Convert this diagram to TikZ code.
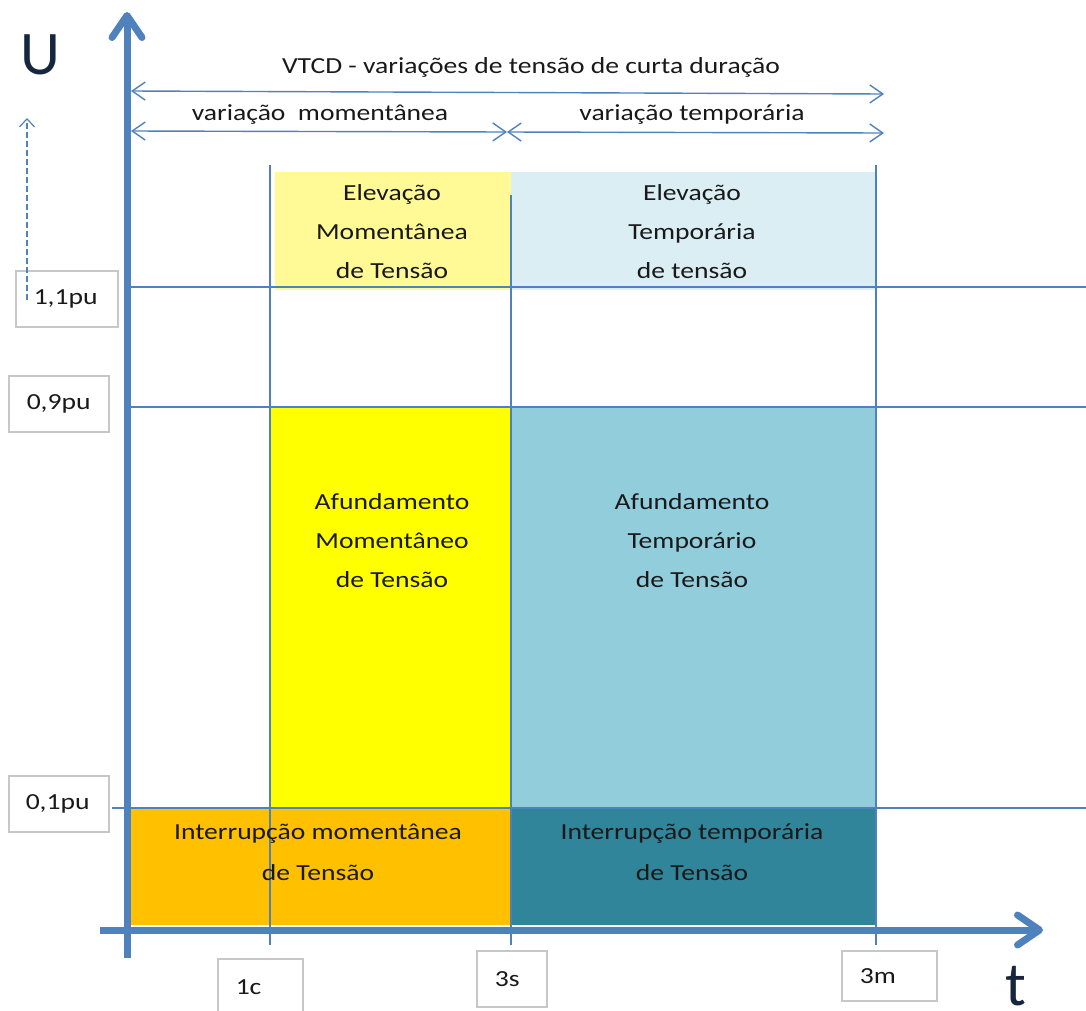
\documentclass[tikz,border=0pt]{standalone}
\usepackage{fontspec}
\setmainfont{Carlito}[FakeStretch=1.2]
\newfontfamily\axisfont{Carlito}
\usetikzlibrary{arrows.meta}
\definecolor{axblue}{RGB}{79,129,189}
\definecolor{elevmom}{RGB}{255,250,150}
\definecolor{elevtemp}{RGB}{218,238,243}
\definecolor{afumom}{RGB}{255,255,0}
\definecolor{afutemp}{RGB}{146,205,220}
\definecolor{intmom}{RGB}{255,192,0}
\definecolor{inttemp}{RGB}{49,133,155}
\definecolor{txtdark}{RGB}{25,25,25}
\definecolor{axtext}{RGB}{22,38,62}

\begin{document}
\begin{tikzpicture}[x=1pt,y=-1pt,
  axis/.style={axblue,line width=7pt,-{Straight Barb[length=22pt,width=30pt,round]}},
  guide/.style={axblue,line width=1.3pt},
  span/.style={axblue,line width=1.4pt,{Straight Barb[length=13pt,width=18pt]}-{Straight Barb[length=13pt,width=18pt]}},
  zone/.style={align=center,font=\fontsize{23}{39}\selectfont,text=txtdark,inner sep=0pt},
  axname/.style={font=\axisfont\fontsize{62}{62}\selectfont,text=axtext,inner sep=0pt},
  level/.style={draw=black!22,line width=1.5pt,fill=white,font=\fontsize{23}{25}\selectfont,
    text=txtdark,align=left,inner xsep=18pt,inner ysep=0pt,anchor=north west}]
\useasboundingbox (0,0) rectangle (1086,1010);

% Zone fills
\fill[elevmom] (275,172) rectangle (511,290);
\fill[elevtemp] (511,172) rectangle (876,290);
\fill[afumom] (270,407) rectangle (511,808);
\fill[afutemp] (511,407) rectangle (876,808);
\fill[intmom] (130,808) rectangle (511,925);
\fill[inttemp] (511,808) rectangle (876,925);

% Guide lines
\foreach \gx/\gtop in {270/165, 511/195, 876/165}
  \draw[guide] (\gx,\gtop) -- (\gx,945);
\foreach \gy/\gleft in {287/130, 407/130, 808/112}
  \draw[guide] (\gleft,\gy) -- (1086,\gy);

% Axes
\coordinate (vbase) at (127,958);
\coordinate (vtip) at (127,12);
\coordinate (hbase) at (100,930);
\coordinate (htip) at (1043,930);
\draw[axis] (vbase) -- (vtip);
\draw[axis] (hbase) -- (htip);
\node[axname] (ulabel) at (40,55) {U};
\node[axname] (tlabel) at (1016,986) {t};

% Duration spans
\coordinate (vtcdL) at (131,91);
\coordinate (vtcdR) at (884,94);
\coordinate (momL) at (131,131);
\coordinate (mid) at (507,132);
\coordinate (tempR) at (884,133);
\draw[span] (vtcdL) -- (vtcdR);
\draw[span] (momL) -- (mid);
\draw[span] (mid) -- (tempR);
\node[zone] (vtcd) at (531,67) {VTCD - variações de tensão de curta duração};
\node[zone] (varmom) at (320,115) {variação\ \ momentânea};
\node[zone] (vartemp) at (692,115) {variação temporária};

% Zone labels
\node[zone] (elevm) at (392,232) {Elevação\\Momentânea\\de Tensão};
\node[zone] (elevt) at (692,232) {Elevação\\Temporária\\de tensão};
\node[zone] (afum) at (392,541) {Afundamento\\Momentâneo\\de Tensão};
\node[zone] (afut) at (692,541) {Afundamento\\Temporário\\de Tensão};
\node[zone,font=\fontsize{23}{41}\selectfont] (intm) at (318,852) {Interrupção momentânea\\de Tensão};
\node[zone,font=\fontsize{23}{41}\selectfont] (intt) at (692,852) {Interrupção temporária\\de Tensão};

% Level and time boxes
\node[level,text width=66pt,minimum height=56pt] (pu11) at (15,270) {1,1pu};
\node[level,text width=64pt,minimum height=56pt] (pu09) at (8,375) {0,9pu};
\node[level,text width=66pt,minimum height=56pt,inner xsep=17pt] (pu01) at (8,775) {0,1pu};
\node[level,text width=49pt,minimum height=56pt] (t1c) at (217,958) {1c};
\node[level,text width=34pt,minimum height=56pt] (t3s) at (476,950) {3s};
\node[level,text width=59pt,minimum height=50pt] (t3m) at (841,950) {3m};

% Dashed rise marker
\coordinate (riseL) at (27,300);
\coordinate (riseH) at (27,118);
\draw[axblue,line width=1.2pt,dash pattern=on 6pt off 3pt,-{Straight Barb[length=8pt,width=15pt]}] (riseL) -- (riseH);

\end{tikzpicture}
\end{document}
